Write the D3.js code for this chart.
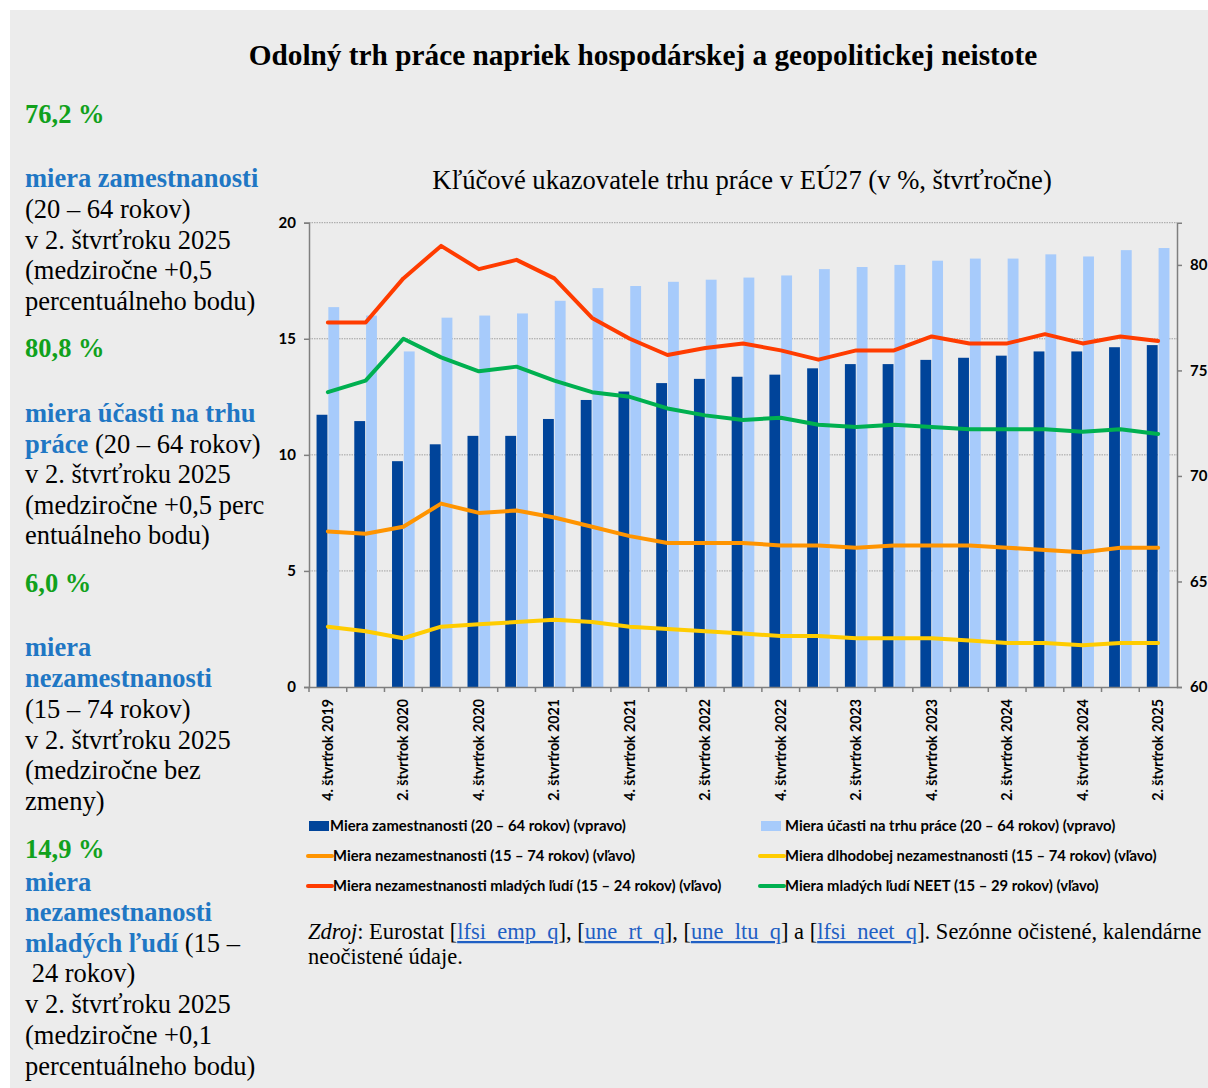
<!DOCTYPE html>
<meta charset="utf-8">
<title>Odolný trh práce</title>
<style>
body { margin: 0; background: #fff; }
text { font-family: "Times New Roman", "Liberation Serif", serif; }
.sans { font-family: Lato, "Open Sans", sans-serif; font-weight: bold; }
</style>
<body>
<script src="https://cdn.jsdelivr.net/npm/d3@7"></script>
<script>

var width = 1208,
    height = 1088;

// quarters Q4 2019 .. Q2 2025
var quarters = ["4. štvrťrok 2019", "1. štvrťrok 2020", "2. štvrťrok 2020", "3. štvrťrok 2020",
  "4. štvrťrok 2020", "1. štvrťrok 2021", "2. štvrťrok 2021", "3. štvrťrok 2021",
  "4. štvrťrok 2021", "1. štvrťrok 2022", "2. štvrťrok 2022", "3. štvrťrok 2022",
  "4. štvrťrok 2022", "1. štvrťrok 2023", "2. štvrťrok 2023", "3. štvrťrok 2023",
  "4. štvrťrok 2023", "1. štvrťrok 2024", "2. štvrťrok 2024", "3. štvrťrok 2024",
  "4. štvrťrok 2024", "1. štvrťrok 2025", "2. štvrťrok 2025"];

// right axis (bars)
var employment = [72.9, 72.6, 70.7, 71.5, 71.9, 71.9, 72.7, 73.6, 74.0, 74.4, 74.6, 74.7,
  74.8, 75.1, 75.3, 75.3, 75.5, 75.6, 75.7, 75.9, 75.9, 76.1, 76.2];
var participation = [78.0, 77.6, 75.9, 77.5, 77.6, 77.7, 78.3, 78.9, 79.0, 79.2, 79.3, 79.4,
  79.5, 79.8, 79.9, 80.0, 80.2, 80.3, 80.3, 80.5, 80.4, 80.7, 80.8];

// left axis (lines)
var unemployment = [6.7, 6.6, 6.9, 7.9, 7.5, 7.6, 7.3, 6.9, 6.5, 6.2, 6.2, 6.2,
  6.1, 6.1, 6.0, 6.1, 6.1, 6.1, 6.0, 5.9, 5.8, 6.0, 6.0];
var longTerm = [2.6, 2.4, 2.1, 2.6, 2.7, 2.8, 2.9, 2.8, 2.6, 2.5, 2.4, 2.3,
  2.2, 2.2, 2.1, 2.1, 2.1, 2.0, 1.9, 1.9, 1.8, 1.9, 1.9];
var youth = [15.7, 15.7, 17.6, 19.0, 18.0, 18.4, 17.6, 15.9, 15.0, 14.3, 14.6, 14.8,
  14.5, 14.1, 14.5, 14.5, 15.1, 14.8, 14.8, 15.2, 14.8, 15.1, 14.9];
var neet = [12.7, 13.2, 15.0, 14.2, 13.6, 13.8, 13.2, 12.7, 12.5, 12.0, 11.7, 11.5,
  11.6, 11.3, 11.2, 11.3, 11.2, 11.1, 11.1, 11.1, 11.0, 11.1, 10.9];

var leftTicks = [0, 5, 10, 15, 20];
var rightTicks = [60, 65, 70, 75, 80];

var barSeries = [
  {name: "Miera zamestnanosti (20 – 64 rokov) (vpravo)", values: employment, color: "#00449a"},
  {name: "Miera účasti na trhu práce (20 – 64 rokov) (vpravo)", values: participation, color: "#a7cbfb"}
];
var lineSeries = [
  {name: "Miera nezamestnanosti (15 – 74 rokov) (vľavo)", values: unemployment, color: "#ff9400"},
  {name: "Miera dlhodobej nezamestnanosti (15 – 74 rokov) (vľavo)", values: longTerm, color: "#ffcc00"},
  {name: "Miera nezamestnanosti mladých ľudí (15 – 24 rokov) (vľavo)", values: youth, color: "#ff3c00"},
  {name: "Miera mladých ľudí NEET (15 – 29 rokov) (vľavo)", values: neet, color: "#00b050"}
];

// left-hand commentary: [text, kind] segments, dy = distance to previous baseline
var sideText = [
  {dy: 123, parts: [["76,2 %", "g"]]},
  {dy: 64, parts: [["miera zamestnanosti", "b"]]},
  {dy: 31, parts: [["(20 – 64 rokov)", "n"]]},
  {dy: 30.5, parts: [["v 2. štvrťroku 2025", "n"]]},
  {dy: 30.5, parts: [["(medziročne +0,5", "n"]]},
  {dy: 31, parts: [["percentuálneho bodu)", "n"]]},
  {dy: 47, parts: [["80,8 %", "g"]]},
  {dy: 65, parts: [["miera účasti na trhu", "b"]]},
  {dy: 30.5, parts: [["práce", "b"], [" (20 – 64 rokov)", "n"]]},
  {dy: 30.5, parts: [["v 2. štvrťroku 2025", "n"]]},
  {dy: 30.5, parts: [["(medziročne +0,5 perc", "n"]]},
  {dy: 30.5, parts: [["entuálneho bodu)", "n"]]},
  {dy: 48, parts: [["6,0 %", "g"]]},
  {dy: 64, parts: [["miera", "b"]]},
  {dy: 30.5, parts: [["nezamestnanosti", "b"]]},
  {dy: 31, parts: [["(15 – 74 rokov)", "n"]]},
  {dy: 31, parts: [["v 2. štvrťroku 2025", "n"]]},
  {dy: 30.5, parts: [["(medziročne bez", "n"]]},
  {dy: 30.5, parts: [["zmeny)", "n"]]},
  {dy: 48, parts: [["14,9 %", "g"]]},
  {dy: 33, parts: [["miera", "b"]]},
  {dy: 30.5, parts: [["nezamestnanosti", "b"]]},
  {dy: 30.5, parts: [["mladých ľudí", "b"], [" (15 –", "n"]]},
  {dy: 30.5, parts: [["\u00a024 rokov)", "n"]]},
  {dy: 31, parts: [["v 2. štvrťroku 2025", "n"]]},
  {dy: 31, parts: [["(medziročne +0,1", "n"]]},
  {dy: 31, parts: [["percentuálneho bodu)", "n"]]}
];

var svg = d3.select("body").append("svg")
    .attr("width", width)
    .attr("height", height);

svg.append("rect")
    .attr("x", 10).attr("y", 10)
    .attr("width", width - 10).attr("height", height - 10)
    .attr("fill", "#ececec");

svg.append("text")
    .attr("x", 643).attr("y", 65)
    .attr("text-anchor", "middle")
    .style("font-weight", "bold")
    .style("font-size", "29.3px")
    .text("Odolný trh práce napriek hospodárskej a geopolitickej neistote");

// side column
var kinds = {g: {fill: "#11a11c", weight: "bold"}, b: {fill: "#1f77c4", weight: "bold"}, n: {fill: "#000", weight: "normal"}};
var yy = 0;
sideText.forEach(function(line) {
  yy += line.dy;
  var t = svg.append("text")
      .attr("x", 25).attr("y", yy)
      .style("font-size", "26.5px")
      .attr("xml:space", "preserve");
  line.parts.forEach(function(p) {
    t.append("tspan")
      .attr("fill", kinds[p[1]].fill)
      .style("font-weight", kinds[p[1]].weight)
      .text(p[0]);
  });
});

svg.append("text")
    .attr("x", 742).attr("y", 189)
    .attr("text-anchor", "middle")
    .style("font-size", "26.6px")
    .text("Kľúčové ukazovatele trhu práce v EÚ27 (v %, štvrťročne)");

// chart area
var plot = {left: 309, right: 1177, top: 222.7, bottom: 687};

var x = d3.scaleBand()
    .domain(quarters)
    .range([plot.left, plot.right]);

var xGroup = d3.scaleBand()
    .domain([0, 1])
    .range([0, x.bandwidth() * 0.6])
    .paddingInner(0.08);

var yLeft = d3.scaleLinear().domain([0, 20]).range([plot.bottom, plot.top]);
var yRight = d3.scaleLinear().domain([60, 82]).range([plot.bottom, plot.top]);

// dotted grid
svg.append("g")
  .selectAll("line")
  .data(leftTicks.filter(function(d) { return d > 0; }))
  .enter().append("line")
    .attr("x1", plot.left).attr("x2", plot.right)
    .attr("y1", function(d) { return yLeft(d); })
    .attr("y2", function(d) { return yLeft(d); })
    .attr("stroke", "#a0a0a0")
    .attr("stroke-width", 1)
    .attr("stroke-dasharray", "1.5,1");

// bars
var groupOffset = (x.bandwidth() - x.bandwidth() * 0.6) / 2;
barSeries.forEach(function(s, si) {
  svg.append("g")
    .selectAll("rect")
    .data(s.values)
    .enter().append("rect")
      .attr("x", function(d, i) { return x(quarters[i]) + groupOffset + xGroup(si); })
      .attr("width", xGroup.bandwidth())
      .attr("y", function(d) { return yRight(d); })
      .attr("height", function(d) { return yRight(60) - yRight(d); })
      .attr("fill", s.color);
});

// lines
var line = d3.line()
    .x(function(d, i) { return x(quarters[i]) + x.bandwidth() / 2; })
    .y(function(d) { return yLeft(d); });

lineSeries.forEach(function(s) {
  svg.append("path")
    .datum(s.values)
    .attr("d", line)
    .attr("fill", "none")
    .attr("stroke", s.color)
    .attr("stroke-width", 4)
    .attr("stroke-linejoin", "round")
    .attr("stroke-linecap", "round");
});

// axes
var leftAxis = svg.append("g")
    .attr("transform", "translate(" + plot.left + ",0)")
    .call(d3.axisLeft(yLeft).tickValues(leftTicks).tickSize(5).tickPadding(8));
var rightAxis = svg.append("g")
    .attr("transform", "translate(" + plot.right + ",0)")
    .call(d3.axisRight(yRight).tickValues(rightTicks).tickSize(5).tickPadding(8));
var bottomAxis = svg.append("g")
    .attr("transform", "translate(0," + plot.bottom + ")")
    .call(d3.axisBottom(x).tickSize(0).tickFormat(function(d, i) { return i % 2 == 0 ? d : ""; }));

[leftAxis, rightAxis, bottomAxis].forEach(function(a) {
  a.select(".domain").attr("stroke", "#7f7f7f").attr("stroke-width", 1.5);
  a.selectAll(".tick line").attr("stroke", "#7f7f7f").attr("stroke-width", 1.5);
  a.selectAll("text").attr("class", "sans").attr("fill", "#000");
});
leftAxis.selectAll("text").style("font-size", "15px");
rightAxis.selectAll("text").style("font-size", "15px");

bottomAxis.selectAll("text")
    .style("font-size", "14.2px")
    .attr("text-anchor", "end")
    .attr("transform", "rotate(-90)")
    .attr("x", -12).attr("y", 0).attr("dy", "0.35em");

// tick marks between categories
svg.append("g")
  .selectAll("line")
  .data(quarters)
  .enter().append("line")
    .attr("x1", function(d) { return x(d); })
    .attr("x2", function(d) { return x(d); })
    .attr("y1", plot.bottom).attr("y2", plot.bottom + 5)
    .attr("stroke", "#7f7f7f")
    .attr("stroke-width", 1.5);

// legend
var legendItems = [barSeries[0], barSeries[1], lineSeries[0], lineSeries[1], lineSeries[2], lineSeries[3]];
var legend = svg.append("g").selectAll("g")
    .data(legendItems)
    .enter().append("g")
    .attr("transform", function(d, i) {
      return "translate(" + (i % 2 == 0 ? 308 : 760) + "," + (826 + Math.floor(i / 2) * 30) + ")";
    });

legend.each(function(d, i) {
  var g = d3.select(this);
  if (i < 2) {
    g.append("rect").attr("x", 1).attr("y", -5).attr("width", 20).attr("height", 10).attr("fill", d.color);
  } else {
    g.append("line").attr("x1", 0).attr("x2", 24).attr("y1", 0).attr("y2", 0)
      .attr("stroke", d.color).attr("stroke-width", 4).attr("stroke-linecap", "round");
  }
  g.append("text")
    .attr("class", "sans")
    .attr("x", i < 2 && i % 2 == 0 ? 22 : 25)
    .attr("dy", "0.35em")
    .style("font-size", "14.8px")
    .text(d.name);
});

// source
var src = svg.append("text")
    .attr("x", 308).attr("y", 939)
    .style("font-size", "22.5px");
var srcParts = [["Zdroj", "i"], [": Eurostat [", ""], ["lfsi_emp_q", "a"], ["], [", ""], ["une_rt_q", "a"],
  ["], [", ""], ["une_ltu_q", "a"], ["] a [", ""], ["lfsi_neet_q", "a"],
  ["]. Sezónne očistené, kalendárne", ""]];
srcParts.forEach(function(p) {
  var ts = src.append("tspan").text(p[0]);
  if (p[1] == "i") ts.style("font-style", "italic");
  if (p[1] == "a") ts.attr("fill", "#1f5fc4").style("text-decoration", "underline");
});
svg.append("text")
    .attr("x", 308).attr("y", 964)
    .style("font-size", "22.5px")
    .text("neočistené údaje.");

</script>
</body>
